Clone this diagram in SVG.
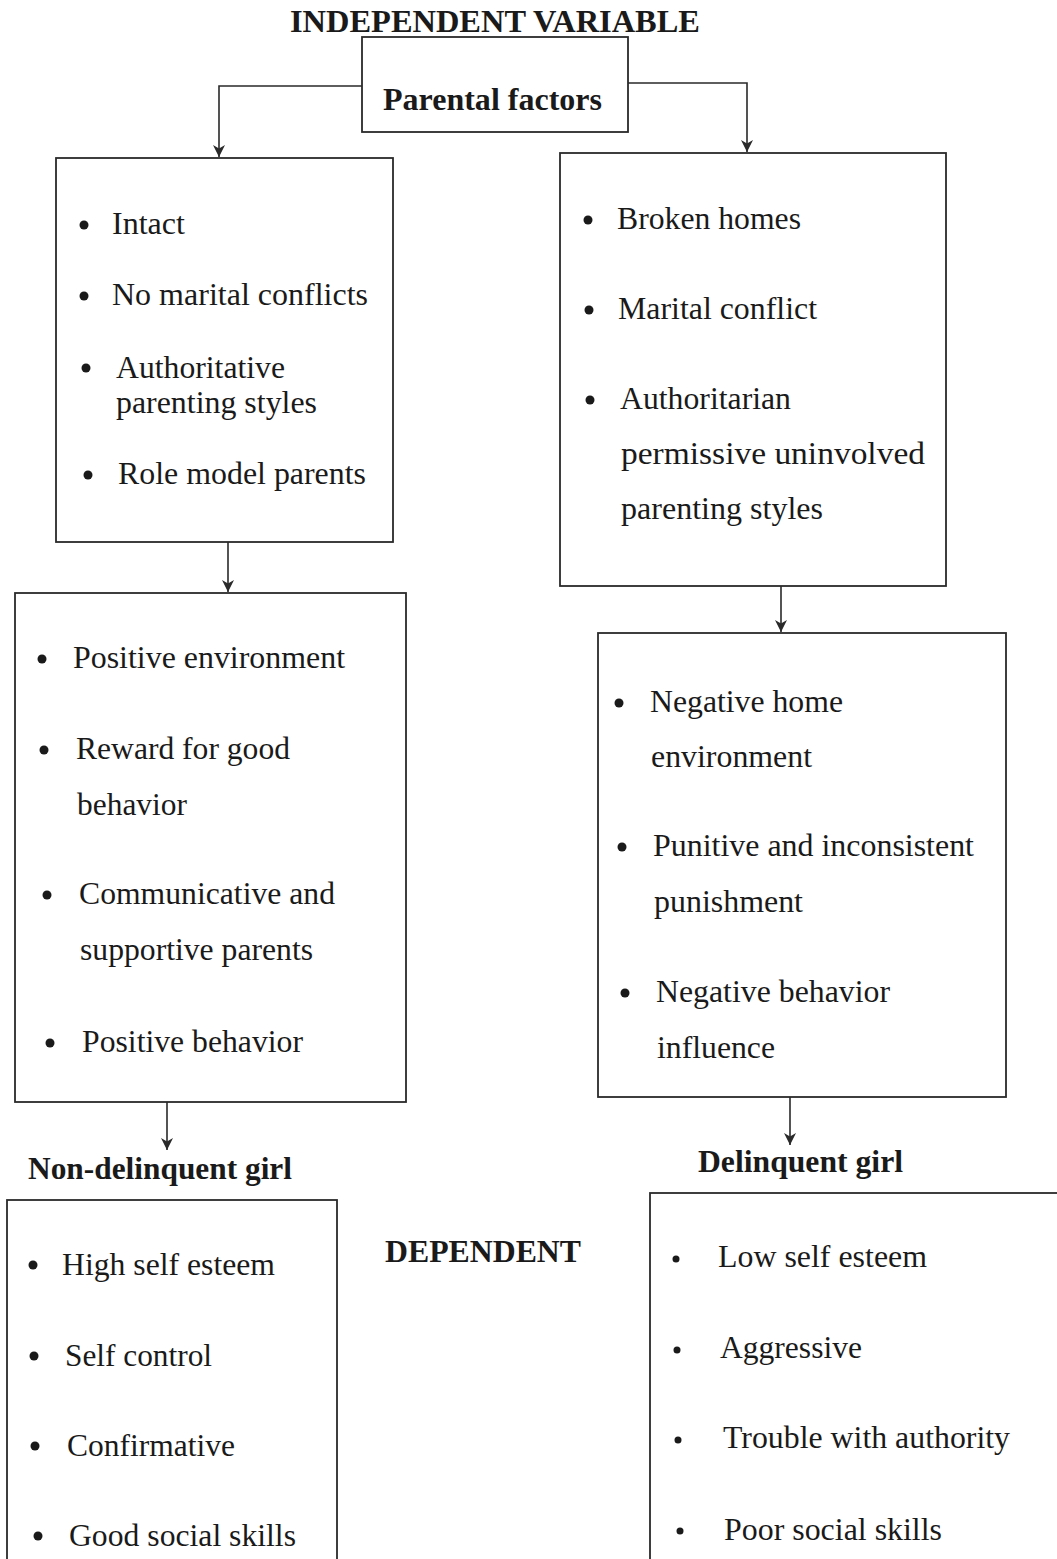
<svg xmlns="http://www.w3.org/2000/svg" width="1057" height="1559" viewBox="0 0 1057 1559">
<style>
.t{font-family:"Liberation Serif","Times New Roman",serif;font-size:31px;fill:#1a1a1a}
.b{font-weight:bold}
.box{fill:none;stroke:#2a2a2a;stroke-width:1.8}
.ln{fill:none;stroke:#2a2a2a;stroke-width:1.6}
.dot{fill:#1a1a1a}
</style>
<defs>
<marker id="ar" viewBox="0 0 10 10" refX="10" refY="5" markerWidth="12" markerHeight="12" markerUnits="userSpaceOnUse" orient="auto">
<path d="M0,0 L10,5 L0,10 L3,5 Z" fill="#2a2a2a"/>
</marker>
</defs>
<rect width="1057" height="1559" fill="#ffffff"/>

<text id="title" class="t b" x="290" y="32" textLength="410" lengthAdjust="spacingAndGlyphs">INDEPENDENT VARIABLE</text>

<g id="connectors">
<path class="ln" d="M362,86 H219 V157" marker-end="url(#ar)"/>
<path class="ln" d="M628,83 H747 V152" marker-end="url(#ar)"/>
<path class="ln" d="M228,542 V592" marker-end="url(#ar)"/>
<path class="ln" d="M781,586 V632" marker-end="url(#ar)"/>
<path class="ln" d="M167,1102 V1150" marker-end="url(#ar)"/>
<path class="ln" d="M790,1097 V1145" marker-end="url(#ar)"/>
</g>

<g id="parental">
<rect class="box" x="362" y="37" width="266" height="95"/>
<text class="t b" x="383" y="110" textLength="219" lengthAdjust="spacingAndGlyphs">Parental factors</text>
</g>

<g id="left1">
<rect class="box" x="56" y="158" width="337" height="384"/>
<circle class="dot" cx="84" cy="225" r="4.5"/>
<text class="t" x="112" y="234" textLength="73" lengthAdjust="spacingAndGlyphs">Intact</text>
<circle class="dot" cx="84" cy="296" r="4.5"/>
<text class="t" x="112" y="305" textLength="256" lengthAdjust="spacingAndGlyphs">No marital conflicts</text>
<circle class="dot" cx="86" cy="368" r="4.5"/>
<text class="t" x="116" y="378" textLength="169" lengthAdjust="spacingAndGlyphs">Authoritative</text>
<text class="t" x="116" y="413" textLength="201" lengthAdjust="spacingAndGlyphs">parenting styles</text>
<circle class="dot" cx="88" cy="475" r="4.5"/>
<text class="t" x="118" y="484" textLength="248" lengthAdjust="spacingAndGlyphs">Role model parents</text>
</g>

<g id="right1">
<rect class="box" x="560" y="153" width="386" height="433"/>
<circle class="dot" cx="588" cy="220" r="4.5"/>
<text class="t" x="617" y="229" textLength="184" lengthAdjust="spacingAndGlyphs">Broken homes</text>
<circle class="dot" cx="589" cy="310" r="4.5"/>
<text class="t" x="618" y="319" textLength="199" lengthAdjust="spacingAndGlyphs">Marital conflict</text>
<circle class="dot" cx="590" cy="400" r="4.5"/>
<text class="t" x="620" y="409" textLength="171" lengthAdjust="spacingAndGlyphs">Authoritarian</text>
<text class="t" x="621" y="464" textLength="304" lengthAdjust="spacingAndGlyphs">permissive   uninvolved</text>
<text class="t" x="621" y="519" textLength="202" lengthAdjust="spacingAndGlyphs">parenting styles</text>
</g>

<g id="left2">
<rect class="box" x="15" y="593" width="391" height="509"/>
<circle class="dot" cx="42" cy="659" r="4.5"/>
<text class="t" x="73" y="668" textLength="272" lengthAdjust="spacingAndGlyphs">Positive environment</text>
<circle class="dot" cx="44" cy="750" r="4.5"/>
<text class="t" x="76" y="759" textLength="214" lengthAdjust="spacingAndGlyphs">Reward for good</text>
<text class="t" x="77" y="815" textLength="110" lengthAdjust="spacingAndGlyphs">behavior</text>
<circle class="dot" cx="47" cy="895" r="4.5"/>
<text class="t" x="79" y="904" textLength="256" lengthAdjust="spacingAndGlyphs">Communicative and</text>
<text class="t" x="80" y="960" textLength="233" lengthAdjust="spacingAndGlyphs">supportive parents</text>
<circle class="dot" cx="50" cy="1043" r="4.5"/>
<text class="t" x="82" y="1052" textLength="221" lengthAdjust="spacingAndGlyphs">Positive behavior</text>
</g>

<g id="right2">
<rect class="box" x="598" y="633" width="408" height="464"/>
<circle class="dot" cx="619" cy="703" r="4.5"/>
<text class="t" x="650" y="712" textLength="193" lengthAdjust="spacingAndGlyphs">Negative home</text>
<text class="t" x="651" y="767" textLength="161" lengthAdjust="spacingAndGlyphs">environment</text>
<circle class="dot" cx="622" cy="847" r="4.5"/>
<text class="t" x="653" y="856" textLength="321" lengthAdjust="spacingAndGlyphs">Punitive and inconsistent</text>
<text class="t" x="654" y="912" textLength="149" lengthAdjust="spacingAndGlyphs">punishment</text>
<circle class="dot" cx="625" cy="993" r="4.5"/>
<text class="t" x="656" y="1002" textLength="234" lengthAdjust="spacingAndGlyphs">Negative behavior</text>
<text class="t" x="657" y="1058" textLength="118" lengthAdjust="spacingAndGlyphs">influence</text>
</g>

<g id="nondelinquent">
<text class="t b" x="28" y="1179" textLength="264" lengthAdjust="spacingAndGlyphs">Non-delinquent girl</text>
<rect class="box" x="7" y="1200" width="330" height="380"/>
<circle class="dot" cx="33" cy="1265" r="4.5"/>
<text class="t" x="62" y="1275" textLength="213" lengthAdjust="spacingAndGlyphs">High self esteem</text>
<circle class="dot" cx="34" cy="1356" r="4.5"/>
<text class="t" x="65" y="1366" textLength="147" lengthAdjust="spacingAndGlyphs">Self control</text>
<circle class="dot" cx="35" cy="1446" r="4.5"/>
<text class="t" x="67" y="1456" textLength="168" lengthAdjust="spacingAndGlyphs">Confirmative</text>
<circle class="dot" cx="38" cy="1536" r="4.5"/>
<text class="t" x="69" y="1546" textLength="227" lengthAdjust="spacingAndGlyphs">Good social skills</text>
</g>

<text id="dependent" class="t b" x="385" y="1262" textLength="196" lengthAdjust="spacingAndGlyphs">DEPENDENT</text>

<g id="delinquent">
<text class="t b" x="698" y="1172" textLength="205" lengthAdjust="spacingAndGlyphs">Delinquent girl</text>
<rect class="box" x="650" y="1193" width="420" height="380"/>
<circle class="dot" cx="676" cy="1259" r="3.5"/>
<text class="t" x="718" y="1267" textLength="209" lengthAdjust="spacingAndGlyphs">Low self esteem</text>
<circle class="dot" cx="677" cy="1350" r="3.5"/>
<text class="t" x="720" y="1358" textLength="142" lengthAdjust="spacingAndGlyphs">Aggressive</text>
<circle class="dot" cx="678" cy="1440" r="3.5"/>
<text class="t" x="723" y="1448" textLength="287" lengthAdjust="spacingAndGlyphs">Trouble with authority</text>
<circle class="dot" cx="680" cy="1531" r="3.5"/>
<text class="t" x="724" y="1540" textLength="218" lengthAdjust="spacingAndGlyphs">Poor social skills</text>
</g>
</svg>
